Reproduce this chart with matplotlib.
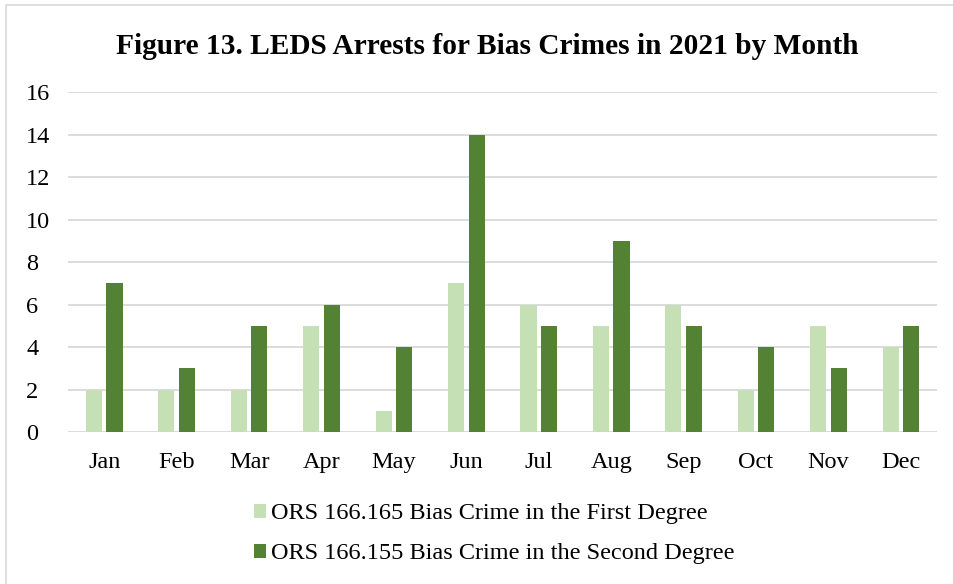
import numpy as np
import matplotlib
matplotlib.use("Agg")
import matplotlib.pyplot as plt
from matplotlib.patches import Rectangle

months = ["Jan", "Feb", "Mar", "Apr", "May", "Jun",
          "Jul", "Aug", "Sep", "Oct", "Nov", "Dec"]
first_degree = [2, 2, 2, 5, 1, 7, 6, 5, 6, 2, 5, 4]
second_degree = [7, 3, 5, 6, 4, 14, 5, 9, 5, 4, 3, 5]
series_labels = ["ORS 166.165 Bias Crime in the First Degree",
                 "ORS 166.155 Bias Crime in the Second Degree"]

plt.rcParams["font.family"] = ["Liberation Serif", "DejaVu Serif"]

fig = plt.figure(figsize=(9.54, 5.84), dpi=100)
ax = fig.add_axes([0.0713, 0.260, 0.911, 0.5825])

# outer chart border (right and bottom edges fall outside the crop)
fig.patches.append(Rectangle((0.006, -0.1), 1.1, 1.092, transform=fig.transFigure,
                             fill=False, edgecolor="#D9D9D9", linewidth=1.2))

x = np.arange(len(months))
w = 0.222
off = 0.142
b1 = ax.bar(x - off, first_degree, w, color="#C5E0B4", label=series_labels[0], zorder=3)
b2 = ax.bar(x + off, second_degree, w, color="#548235", label=series_labels[1], zorder=3)

ax.set_xlim(-0.5, len(months) - 0.5)
ax.set_ylim(0, 16)
ax.set_yticks(range(0, 17, 2))
ax.set_xticks(x)
ax.set_xticklabels(months)
ax.tick_params(axis="both", length=0, labelsize=17.5, colors="black")
ax.tick_params(axis="x", pad=14)
ax.tick_params(axis="y", pad=30)
for lab in ax.get_yticklabels():
    lab.set_horizontalalignment("left")
ax.grid(axis="y", color="#D9D9D9", linewidth=1.3, zorder=0)
for s in ["top", "right", "left", "bottom"]:
    ax.spines[s].set_visible(False)

fig.text(0.511, 0.92, "Figure 13. LEDS Arrests for Bias Crimes in 2021 by Month",
         ha="center", va="center", fontsize=21.2, fontweight="bold")

fig.legend(handles=[b1, b2], loc="upper left", bbox_to_anchor=(0.266, 0.138),
           ncol=1, frameon=False, fontsize=17.5, handlelength=0.5, handleheight=0.5,
           handletextpad=0.2, labelspacing=0.78, borderaxespad=0, borderpad=0)

fig.savefig("out.png", dpi=100)
